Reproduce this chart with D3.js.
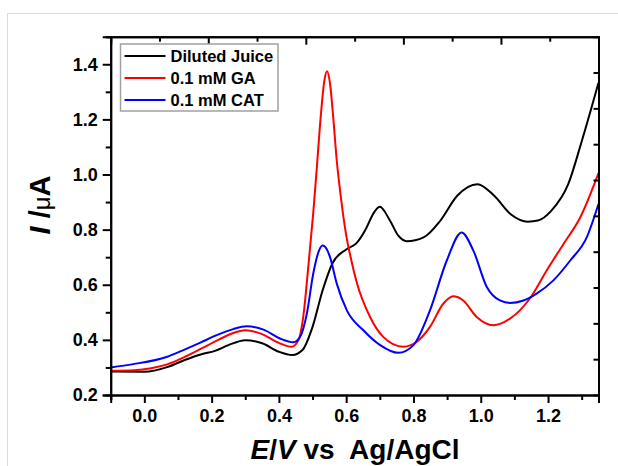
<!DOCTYPE html>
<html>
<head>
<meta charset="utf-8">
<script src="https://cdn.jsdelivr.net/npm/d3@7"></script>
<style>
  body { margin: 0; background: #fff; }
  svg text { font-family: "Liberation Sans", Arial, sans-serif; font-weight: bold; }
</style>
</head>
<body>
<script>
// potential axis ticks
var xTicks = [0.0, 0.2, 0.4, 0.6, 0.8, 1.0, 1.2];
var yTicks = [0.2, 0.4, 0.6, 0.8, 1.0, 1.2, 1.4];

// Diluted Juice
var juiceE = [-0.1, 0.0, 0.07, 0.12, 0.17, 0.21, 0.25, 0.30, 0.35, 0.40, 0.44, 0.47, 0.50, 0.53, 0.56, 0.60, 0.63, 0.66, 0.68, 0.70, 0.73, 0.755, 0.78, 0.83, 0.88, 0.93, 0.99, 1.04, 1.09, 1.14, 1.17, 1.21, 1.26, 1.30, 1.35];
var juiceI = [0.285, 0.284, 0.302, 0.327, 0.348, 0.360, 0.381, 0.399, 0.388, 0.357, 0.345, 0.363, 0.447, 0.58, 0.68, 0.728, 0.75, 0.806, 0.857, 0.883, 0.833, 0.778, 0.758, 0.772, 0.833, 0.923, 0.965, 0.923, 0.855, 0.829, 0.833, 0.869, 0.965, 1.12, 1.333];

// 0.1 mM GA
var gaE = [-0.1, -0.03, 0.02, 0.07, 0.12, 0.17, 0.22, 0.26, 0.30, 0.35, 0.40, 0.438, 0.458, 0.473, 0.487, 0.502, 0.513, 0.525, 0.535, 0.543, 0.552, 0.562, 0.572, 0.582, 0.60, 0.615, 0.631, 0.671, 0.71, 0.77, 0.81, 0.849, 0.889, 0.918, 0.948, 0.988, 1.037, 1.087, 1.146, 1.196, 1.246, 1.296, 1.35];
var gaI = [0.288, 0.290, 0.297, 0.312, 0.338, 0.369, 0.40, 0.423, 0.435, 0.421, 0.389, 0.375, 0.399, 0.49, 0.66, 0.86, 1.03, 1.22, 1.34, 1.375, 1.33, 1.2, 1.05, 0.94, 0.78, 0.69, 0.61, 0.483, 0.411, 0.375, 0.393, 0.447, 0.532, 0.558, 0.543, 0.483, 0.453, 0.477, 0.55, 0.652, 0.748, 0.845, 1.005];

// 0.1 mM CAT
var catE = [-0.1, -0.033, 0.066, 0.116, 0.165, 0.215, 0.264, 0.304, 0.354, 0.403, 0.443, 0.463, 0.483, 0.502, 0.518, 0.530, 0.542, 0.552, 0.572, 0.602, 0.651, 0.701, 0.755, 0.800, 0.849, 0.899, 0.943, 0.978, 1.018, 1.057, 1.087, 1.127, 1.166, 1.216, 1.266, 1.315, 1.35];
var catI = [0.300, 0.312, 0.338, 0.363, 0.389, 0.417, 0.439, 0.449, 0.437, 0.405, 0.391, 0.411, 0.495, 0.640, 0.72, 0.742, 0.73, 0.70, 0.604, 0.507, 0.435, 0.381, 0.353, 0.381, 0.507, 0.688, 0.790, 0.724, 0.592, 0.543, 0.534, 0.543, 0.568, 0.616, 0.688, 0.772, 0.893];

var seriesNames = ["Diluted Juice", "0.1 mM GA", "0.1 mM CAT"];
var seriesColors = ["#000000", "#ff0000", "#0000ff"];

var margin = {top: 36.7, right: 19.5, bottom: 71, left: 110.7};
var width = 618 - margin.left - margin.right;
var height = 466 - margin.top - margin.bottom;

var svg = d3.select("body").append("svg")
    .attr("width", 618)
    .attr("height", 466);

// outer light frame
svg.append("rect")
    .attr("x", 7.5).attr("y", 13.5)
    .attr("width", 640).attr("height", 500)
    .attr("fill", "none")
    .attr("stroke", "#dcdcdc")
    .attr("stroke-width", 1);

var g = svg.append("g")
    .attr("transform", "translate(" + margin.left + "," + margin.top + ")");

var x = d3.scaleLinear().domain([-0.1, 1.35]).range([0, width]);
var y = d3.scaleLinear().domain([0.2, 1.5]).range([height, 0]);
// top / right frames carry plain unlabeled ticks
var xTop = d3.scaleLinear().domain([0, 10]).range([0, width]);
var yRight = d3.scaleLinear().domain([0, 10]).range([height, 0]);

var series = [
    juiceE.map((e, i) => ({e: e, v: juiceI[i]})),
    gaE.map((e, i) => ({e: e, v: gaI[i]})),
    catE.map((e, i) => ({e: e, v: catI[i]}))
];

var line = d3.line()
    .x(d => x(d.e))
    .y(d => y(d.v))
    .curve(d3.curveMonotoneX);

g.selectAll(".curve")
    .data(series)
    .enter().append("path")
    .attr("class", "curve")
    .attr("d", line)
    .attr("fill", "none")
    .attr("stroke", (d, i) => seriesColors[i])
    .attr("stroke-width", 2);

function styleAxis(sel) {
    sel.select(".domain").attr("stroke", "#000").attr("stroke-width", 2);
    sel.selectAll(".tick line").attr("stroke", "#000").attr("stroke-width", 2);
}

// bottom axis: major + minor
var minorX = d3.range(-0.1, 1.36, 0.2).map(v => +v.toFixed(2));
g.append("g")
    .attr("transform", "translate(0," + height + ")")
    .call(d3.axisBottom(x).tickValues(minorX).tickSize(5).tickFormat(""))
    .call(styleAxis);
g.append("g")
    .attr("class", "x axis")
    .attr("transform", "translate(0," + height + ")")
    .call(d3.axisBottom(x).tickValues(xTicks).tickSize(8).tickPadding(6).tickFormat(d3.format(".1f")))
    .call(styleAxis)
    .selectAll("text")
    .attr("font-size", "18px")
    .attr("fill", "#000");

// left axis
var minorY = [0.3, 0.5, 0.7, 0.9, 1.1, 1.3, 1.5];
g.append("g")
    .call(d3.axisLeft(y).tickValues(minorY).tickSize(5).tickFormat(""))
    .call(styleAxis);
g.append("g")
    .attr("class", "y axis")
    .call(d3.axisLeft(y).tickValues(yTicks).tickSize(8).tickPadding(5).tickFormat(d3.format(".1f")))
    .call(styleAxis)
    .selectAll("text")
    .attr("font-size", "18px")
    .attr("fill", "#000");

// top axis (ticks inward)
g.append("g")
    .call(d3.axisTop(xTop).tickValues([1, 3, 5, 7, 9]).tickSize(-5).tickFormat(""))
    .call(styleAxis);
g.append("g")
    .call(d3.axisTop(xTop).tickValues([2, 4, 6, 8]).tickSize(-8).tickFormat(""))
    .call(styleAxis);

// right axis (ticks inward)
g.append("g")
    .attr("transform", "translate(" + width + ",0)")
    .call(d3.axisRight(yRight).tickValues(d3.range(1, 10)).tickSize(-5).tickFormat(""))
    .call(styleAxis);

// y axis title
var yt = svg.append("text")
    .attr("transform", "translate(50,205) rotate(-90)")
    .attr("text-anchor", "middle")
    .attr("font-size", "29px")
    .attr("fill", "#000");
yt.append("tspan").attr("font-style", "italic").text("I");
yt.append("tspan").text(" /");
yt.append("tspan").attr("font-weight", "normal").attr("font-size", "24px").text("\u03BC");
yt.append("tspan").text("A");

// x axis title
var xt = svg.append("text")
    .attr("x", 355)
    .attr("y", 459)
    .attr("text-anchor", "middle")
    .attr("font-size", "28px")
    .attr("fill", "#000")
    .style("white-space", "pre");
xt.append("tspan").attr("font-style", "italic").text("E");
xt.append("tspan").text("/");
xt.append("tspan").attr("font-style", "italic").text("V");
xt.append("tspan").text(" vs  Ag/AgCl");

// legend
var legend = svg.append("g").attr("transform", "translate(120.5,44)");
legend.append("rect")
    .attr("width", 157.5).attr("height", 67)
    .attr("fill", "#fff")
    .attr("stroke", "#a0a0a0")
    .attr("stroke-width", 1.5);
var rows = legend.selectAll(".row")
    .data(seriesNames)
    .enter().append("g")
    .attr("class", "row")
    .attr("transform", (d, i) => "translate(0," + (12 + i * 22) + ")");
rows.append("line")
    .attr("x1", 4).attr("x2", 45)
    .attr("stroke", (d, i) => seriesColors[i])
    .attr("stroke-width", 2);
rows.append("text")
    .attr("x", 50)
    .attr("dy", "0.35em")
    .attr("font-size", "16.5px")
    .attr("fill", "#000")
    .text(d => d);
</script>
</body>
</html>
